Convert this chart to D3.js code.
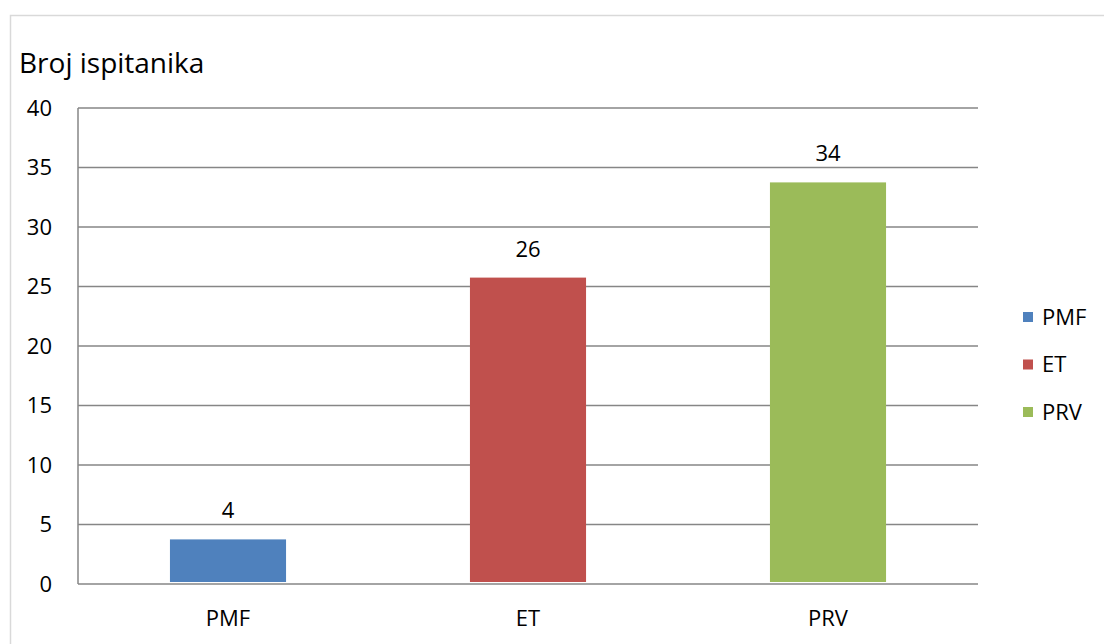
<!DOCTYPE html>
<html>
<head>
<meta charset="utf-8">
<script src="https://cdn.jsdelivr.net/npm/d3@7"></script>
<style>
  body { margin: 0; background: #fff; }
  text { font-family: "Open Sans", sans-serif; fill: #000; }
</style>
</head>
<body>
<div id="chart"></div>
<script>
// data
const categories = ["PMF", "ET", "PRV"];
const values = [4, 26, 34];
const colors = ["#4F81BD", "#C0504D", "#9BBB59"];
const yTicks = [0, 5, 10, 15, 20, 25, 30, 35, 40];

const width = 1104, height = 644;
const plot = { left: 78, right: 978, top: 108, bottom: 584 };

const svg = d3.select("#chart")
  .append("svg")
  .attr("width", width)
  .attr("height", height);

// outer frame
svg.append("rect")
  .attr("x", 10.5).attr("y", 15.5)
  .attr("width", width).attr("height", height)
  .attr("fill", "none")
  .attr("stroke", "#d9d9d9")
  .attr("stroke-width", 1.5);

const x = d3.scaleBand()
  .domain(categories)
  .range([plot.left, plot.right])
  .paddingInner(0.613)
  .paddingOuter(0.3065);

const y = d3.scaleLinear()
  .domain([0, 40])
  .range([plot.bottom, plot.top]);

// gridlines
svg.append("g")
  .selectAll("line")
  .data(yTicks)
  .join("line")
  .attr("x1", plot.left).attr("x2", plot.right)
  .attr("y1", d => y(d)).attr("y2", d => y(d))
  .attr("stroke", "#868686")
  .attr("stroke-width", 1.5);

// left axis line
svg.append("line")
  .attr("x1", plot.left).attr("x2", plot.left)
  .attr("y1", plot.top).attr("y2", plot.bottom)
  .attr("stroke", "#868686")
  .attr("stroke-width", 1.5);

// y tick labels
const yAxis = d3.axisLeft(y).tickValues(yTicks).tickSize(0).tickPadding(26);
const gy = svg.append("g")
  .attr("transform", `translate(${plot.left},0)`)
  .call(yAxis);
gy.select(".domain").remove();
gy.selectAll("text")
  .style("font-family", '"Open Sans", sans-serif')
  .style("font-size", "22px")
  .attr("fill", "#000");

// x tick labels
const xAxis = d3.axisBottom(x).tickSize(0).tickPadding(26);
const gx = svg.append("g")
  .attr("transform", `translate(0,${plot.bottom})`)
  .call(xAxis);
gx.select(".domain").remove();
gx.selectAll("text")
  .style("font-family", '"Open Sans", sans-serif')
  .style("font-size", "22px")
  .attr("fill", "#000");

// bars (sit a little below the value line, as in the original)
svg.append("g")
  .selectAll("rect")
  .data(values)
  .join("rect")
  .attr("x", (d, i) => x(categories[i]))
  .attr("y", d => y(d) + 3)
  .attr("width", x.bandwidth())
  .attr("height", d => y(0) - y(d) - 5)
  .attr("fill", (d, i) => colors[i]);

// value labels
svg.append("g")
  .selectAll("text")
  .data(values)
  .join("text")
  .attr("x", (d, i) => x(categories[i]) + x.bandwidth() / 2)
  .attr("y", d => y(d) - 18)
  .attr("text-anchor", "middle")
  .style("font-size", "22px")
  .text(d => d);

// title
svg.append("text")
  .attr("x", 19)
  .attr("y", 73)
  .style("font-size", "28px")
  .text("Broj ispitanika");

// legend
const legend = svg.append("g")
  .selectAll("g")
  .data(categories)
  .join("g")
  .attr("transform", (d, i) => `translate(1023,${317 + i * 47.5})`);

legend.append("rect")
  .attr("x", 0).attr("y", -5)
  .attr("width", 10).attr("height", 10)
  .attr("fill", (d, i) => colors[i]);

legend.append("text")
  .attr("x", 19)
  .attr("y", 0)
  .attr("dy", "0.36em")
  .style("font-size", "22px")
  .text(d => d);
</script>
</body>
</html>
